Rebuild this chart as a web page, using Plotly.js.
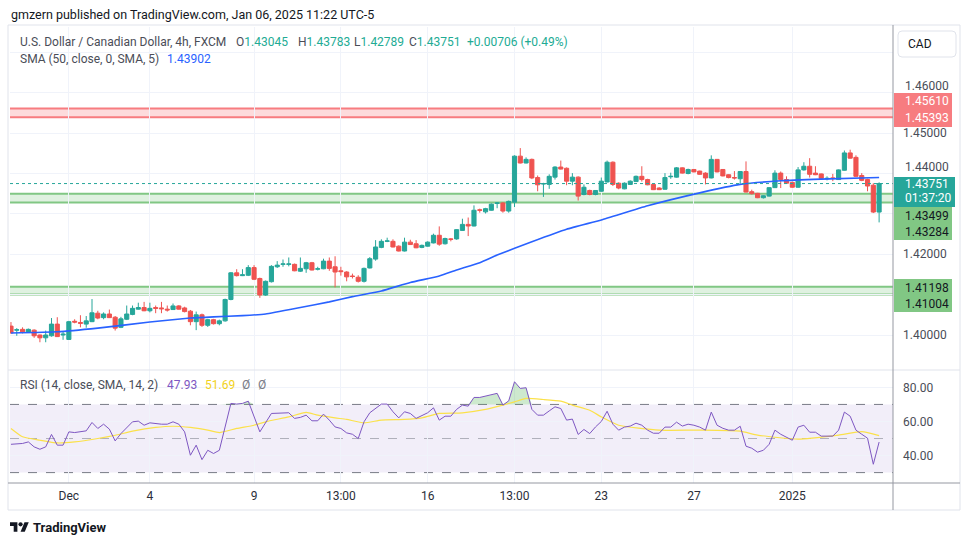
<!DOCTYPE html>
<html><head><meta charset="utf-8">
<script src="https://cdn.plot.ly/plotly-3.0.1.min.js"></script>
<style>html,body{margin:0;padding:0;background:#fff;}#chart{width:970px;height:545px;}</style>
</head><body><div id="chart"></div>
<script>
// ---------- DATA ----------
const opens = [1.4022,1.4012,1.4014,1.4007,1.4012,1.4000,1.3993,1.3998,1.4027,1.4000,
1.3989,1.4034,1.4031,1.4027,1.4033,1.4054,1.4043,1.4052,1.4044,1.4019,
1.4039,1.4051,1.4064,1.4068,1.4060,1.4068,1.4067,1.4064,1.4063,1.4072,
1.4067,1.4059,1.4033,1.4050,1.4024,1.4038,1.4028,1.4035,1.4088,1.4154,
1.4147,1.4148,1.4167,1.4140,1.4099,1.4132,1.4169,1.4175,1.4175,1.4175,
1.4158,1.4164,1.4179,1.4163,1.4164,1.4183,1.4169,1.4159,1.4156,1.4146,
1.4143,1.4133,1.4166,1.4188,1.4217,1.4232,1.4232,1.4220,1.4208,1.4230,
1.4226,1.4217,1.4220,1.4228,1.4247,1.4226,1.4238,1.4238,1.4259,1.4274,
1.4270,1.4310,1.4305,1.4309,1.4326,1.4327,1.4307,1.4329,1.4443,1.4426,
1.4435,1.4390,1.4374,1.4373,1.4391,1.4416,1.4413,1.4381,1.4391,1.4348,
1.4358,1.4348,1.4356,1.4379,1.4428,1.4376,1.4362,1.4373,1.4380,1.4393,
1.4385,1.4373,1.4364,1.4361,1.4392,1.4391,1.4414,1.4400,1.4410,1.4406,
1.4401,1.4389,1.4435,1.4410,1.4397,1.4390,1.4387,1.4405,1.4355,1.4351,
1.4340,1.4344,1.4365,1.4401,1.4385,1.4378,1.4366,1.4409,1.4418,1.4401,
1.4399,1.4387,1.4389,1.4385,1.4408,1.4451,1.4440,1.4395,1.4385,1.4371,
1.43045];
const highs = [1.4032,1.4017,1.4019,1.4016,1.4014,1.4001,1.4011,1.4042,1.4044,1.4009,
1.4035,1.4039,1.4049,1.4047,1.4089,1.4060,1.4056,1.4063,1.4047,1.4045,
1.4073,1.4073,1.4080,1.4082,1.4080,1.4073,1.4082,1.4073,1.4078,1.4074,
1.4070,1.4062,1.4058,1.4053,1.4040,1.4040,1.4038,1.4090,1.4156,1.4163,
1.4163,1.4173,1.4173,1.4142,1.4135,1.4173,1.4183,1.4187,1.4192,1.4177,
1.4192,1.4181,1.4181,1.4169,1.4189,1.4192,1.4195,1.4169,1.4158,1.4152,
1.4148,1.4167,1.4193,1.4235,1.4237,1.4241,1.4237,1.4222,1.4241,1.4236,
1.4235,1.4224,1.4232,1.4251,1.4269,1.4241,1.4240,1.4262,1.4288,1.4291,
1.4321,1.4313,1.4315,1.4326,1.4329,1.4329,1.4333,1.4445,1.4463,1.4440,
1.4437,1.4395,1.4377,1.4398,1.4418,1.4432,1.4415,1.4401,1.4393,1.4373,
1.4360,1.4359,1.4390,1.4432,1.4430,1.4378,1.4378,1.4383,1.4395,1.4418,
1.4387,1.4374,1.4366,1.4401,1.4402,1.4416,1.4415,1.4412,1.4411,1.4407,
1.4403,1.4445,1.4436,1.4411,1.4398,1.4406,1.4406,1.4430,1.4360,1.4352,
1.4346,1.4366,1.4408,1.4405,1.4393,1.4380,1.4416,1.4428,1.4438,1.4418,
1.4400,1.4393,1.4399,1.4410,1.4457,1.4459,1.4445,1.4401,1.4387,1.4376,
1.43783];
const lows = [1.4004,1.3998,1.4004,1.4006,1.3993,1.3982,1.3982,1.3996,1.3995,1.3988,
1.3988,1.4029,1.4019,1.4018,1.4032,1.4039,1.4039,1.4042,1.4011,1.4017,
1.4037,1.4049,1.4063,1.4059,1.4056,1.4054,1.4054,1.4058,1.4062,1.4063,
1.4056,1.4024,1.4012,1.4020,1.4020,1.4026,1.4024,1.4033,1.4086,1.4145,
1.4146,1.4146,1.4136,1.4092,1.4097,1.4130,1.4166,1.4169,1.4170,1.4158,
1.4156,1.4154,1.4160,1.4160,1.4163,1.4159,1.4118,1.4147,1.4133,1.4140,
1.4130,1.4130,1.4165,1.4184,1.4215,1.4230,1.4217,1.4207,1.4207,1.4223,
1.4215,1.4215,1.4219,1.4227,1.4221,1.4224,1.4232,1.4236,1.4258,1.4245,
1.4269,1.4303,1.4301,1.4308,1.4314,1.4303,1.4303,1.4317,1.4425,1.4425,
1.4386,1.4356,1.4342,1.4362,1.4385,1.4410,1.4371,1.4371,1.4333,1.4346,
1.4346,1.4346,1.4355,1.4378,1.4369,1.4361,1.4361,1.4372,1.4379,1.4380,
1.4371,1.4359,1.4359,1.4360,1.4387,1.4390,1.4400,1.4398,1.4403,1.4397,
1.4373,1.4388,1.4403,1.4393,1.4388,1.4385,1.4375,1.4353,1.4348,1.4339,
1.4338,1.4343,1.4364,1.4364,1.4375,1.4365,1.4365,1.4407,1.4390,1.4396,
1.4387,1.4383,1.4381,1.4384,1.4407,1.4437,1.4392,1.4381,1.4356,1.4302,
1.42789];
const closes = [1.4005,1.4013,1.4008,1.4014,1.3998,1.3993,1.4000,1.4027,1.3996,1.4002,
1.4033,1.4032,1.4029,1.4035,1.4055,1.4042,1.4052,1.4043,1.4017,1.4040,
1.4052,1.4066,1.4068,1.4060,1.4066,1.4066,1.4065,1.4062,1.4072,1.4064,
1.4058,1.4033,1.4050,1.4024,1.4038,1.4028,1.4035,1.4088,1.4154,1.4147,
1.4149,1.4167,1.4138,1.4099,1.4133,1.4170,1.4173,1.4176,1.4176,1.4159,
1.4165,1.4179,1.4161,1.4164,1.4183,1.4165,1.4156,1.4157,1.4144,1.4145,
1.4133,1.4165,1.4189,1.4218,1.4232,1.4233,1.4218,1.4208,1.4230,1.4224,
1.4216,1.4222,1.4230,1.4247,1.4225,1.4239,1.4237,1.4261,1.4274,1.4270,
1.4309,1.4309,1.4313,1.4324,1.4327,1.4307,1.4331,1.4443,1.4426,1.4435,
1.4389,1.4372,1.4375,1.4393,1.4416,1.4411,1.4381,1.4391,1.4344,1.4366,
1.4348,1.4358,1.4381,1.4428,1.4373,1.4364,1.4376,1.4381,1.4393,1.4385,
1.4372,1.4360,1.4360,1.4390,1.4393,1.4414,1.4401,1.4410,1.4404,1.4398,
1.4389,1.4435,1.4404,1.4394,1.4390,1.4389,1.4405,1.4354,1.4350,1.4340,
1.4345,1.4365,1.4401,1.4385,1.4376,1.4366,1.4409,1.4418,1.4398,1.4397,
1.4388,1.4388,1.4388,1.4409,1.4451,1.4438,1.4393,1.4383,1.4369,1.43045,
1.43751];

// SMA(50) at candle indices
const smaIdx = [0,8,15,24,31,35,40,44,50,55,59,64,69,74,77,81,84,90,96,102,110,119,126,133,140,150];
const smaVal = [1.4005,1.4008,1.4017,1.4032,1.4042,1.4045,1.4048,1.4052,1.4068,1.4082,1.4095,1.4109,1.4130,1.4146,1.4161,1.4179,1.4198,1.4231,1.4262,1.4285,1.4320,1.4352,1.4373,1.4382,1.4386,1.43902];

// RSI(14) and its SMA signal
const rsiIdx = [0,2,3,4,5,6,7,8,9,10,11,13,14,15,16,17,18,19,21,22,23,24,26,27,28,29,30,31,32,33,34,35,36,38,39,40,41,42,43,45,47,48,49,50,51,52,53,54,55,56,57,58,59,60,61,62,64,65,66,67,68,69,70,71,72,73,74,75,76,77,78,79,80,81,83,84,85,86,87,88,89,90,91,92,93,94,95,96,97,98,99,100,101,102,103,104,105,106,107,108,109,110,111,112,113,114,115,116,117,118,119,120,121,122,123,124,125,126,127,128,129,130,131,132,133,134,135,136,137,138,139,140,141,142,143,144,145,146,147,148,149,150];
const rsiVal = [46.6,47.1,48.0,45.1,43.7,45.1,52.4,46.1,46.1,53.9,53.5,54.5,59.4,55.9,58.4,55.5,48.6,52.9,59.8,60.2,57.8,59.2,58.4,58.4,59.8,58.4,53.9,40.2,46.1,37.6,43.1,41.2,43.1,70.6,70.2,70.6,71.9,62.7,53.9,64.7,65.1,65.1,61.8,62.4,63.7,60.4,60.4,64.3,60.8,56.8,55.9,53.3,52.5,50.0,59.8,65.1,70.2,70.2,65.7,62.1,65.7,64.7,61.8,63.7,65.1,68.0,60.8,63.1,63.1,67.1,69.6,69.0,74.1,74.1,75.5,76.5,69.6,72.1,83.3,79.4,79.8,67.1,63.7,63.7,66.2,68.6,67.6,60.8,61.4,52.4,55.3,52.9,56.8,60.0,66.0,58.4,54.9,56.7,57.3,59.0,57.8,54.9,53.1,53.1,56.7,56.7,59.6,57.3,58.4,57.8,56.7,54.9,65.5,57.8,56.0,54.9,54.9,57.2,45.5,44.3,42.0,43.1,46.6,54.9,52.5,50.8,49.0,56.7,57.8,53.7,53.7,51.4,51.4,51.4,54.9,65.5,63.1,54.9,52.5,50.2,34.9,47.93];
const sigIdx = [0,2,5,8,11,15,18,21,25,28,31,34,36,39,42,44,48,51,53,56,58,61,64,68,71,74,78,82,85,87,89,92,95,97,100,102,105,112,119,126,129,136,143,147,150];
const sigVal = [55.9,51.0,49.0,47.4,48.0,50.0,51.9,54.3,56.5,57.2,56.5,54.9,53.5,55.9,57.8,59.8,62.7,65.3,63.7,62.1,61.2,59.2,60.8,61.2,62.1,64.7,65.1,67.1,69.6,71.5,73.5,72.9,71.9,69.6,66.6,62.7,57.8,54.9,54.9,54.3,52.0,49.6,52.0,54.0,51.69];

const timeTickIdx = [10,24,42,57,72,87,102,118,135];
const timeTickText = ['Dec','4','9','13:00','16','13:00','23','27','2025'];
const priceTickVals = [1.40,1.41,1.42,1.43,1.44,1.45,1.46,1.47];
const priceTickText = ['1.40000','','1.42000','','','1.45000','',''];
const raisedPriceLabels = [1.46, 1.44];   // labels partly hidden by tags in the original
const rsiTickVals = [40,60,80];
const rsiTickText = ['40.00','60.00','80.00'];

const resistanceZone = [1.45393, 1.45610];
const supportZoneA = [1.43284, 1.43499];
const supportZoneB = [1.41004, 1.41198];
const lastPrice = 1.43751;
const countdown = '01:37:20';
const changeText = '+0.00706 (+0.49%)';

// ---------- LAYOUT HELPERS ----------
const FONT = 'Roboto, "DejaVu Sans", sans-serif';
const PL = 10, PR = 893, PT = 27, PB = 483;
const px = x => (x - PL) / (PR - PL);
const py = y => (PB - y) / (PB - PT);
const idx = opens.map((_, i) => i);
const UP = '#26a69a', DOWN = '#ef5350';
const fmt5 = v => v.toFixed(5);

function txt(x, y, text, color, size, extra) {
  return Object.assign({xref:'paper', yref:'paper', x:px(x), y:py(y), text:text, showarrow:false,
    xanchor:'left', yanchor:'middle', font:{family:FONT, size:size||12, color:color||'#131722'}}, extra||{});
}
function prect(x0, y0, x1, y1, fill, line, layer) {
  return {type:'rect', xref:'paper', yref:'paper', x0:px(x0), x1:px(x1), y0:py(y1), y1:py(y0),
    fillcolor:fill, line:line||{width:0}, layer:layer||'above'};
}
function pline(x0, y0, x1, y1, color, w, dash) {
  return {type:'line', xref:'paper', yref:'paper', x0:px(x0), x1:px(x1), y0:py(y0), y1:py(y1),
    line:{color:color, width:w||1, dash:dash||'solid'}, layer:'above'};
}
function zone(levels, lineColor, fill) {
  return [
    {type:'rect', xref:'paper', yref:'y', x0:0, x1:1, y0:levels[0], y1:levels[1], fillcolor:fill, line:{width:0}, layer:'below'},
    {type:'line', xref:'paper', yref:'y', x0:0, x1:1, y0:levels[0], y1:levels[0], line:{color:lineColor, width:2}, layer:'below'},
    {type:'line', xref:'paper', yref:'y', x0:0, x1:1, y0:levels[1], y1:levels[1], line:{color:lineColor, width:2}, layer:'below'}
  ];
}
function roundRectPath(x0, y0, x1, y1, r) {
  const X = px, Y = py;
  const rx = r/(PR-PL), ry = r/(PB-PT);
  return `M${X(x0)+rx},${Y(y0)} L${X(x1)-rx},${Y(y0)} Q${X(x1)},${Y(y0)} ${X(x1)},${Y(y0)-ry} ` +
         `L${X(x1)},${Y(y1)+ry} Q${X(x1)},${Y(y1)} ${X(x1)-rx},${Y(y1)} L${X(x0)+rx},${Y(y1)} ` +
         `Q${X(x0)},${Y(y1)} ${X(x0)},${Y(y1)+ry} L${X(x0)},${Y(y0)-ry} Q${X(x0)},${Y(y0)} ${X(x0)+rx},${Y(y0)} Z`;
}

// ---------- TRACES ----------
const candles = {
  type:'candlestick', x:idx, open:opens, high:highs, low:lows, close:closes,
  xaxis:'x', yaxis:'y', whiskerwidth:0,
  increasing:{line:{color:UP, width:1}, fillcolor:UP},
  decreasing:{line:{color:DOWN, width:1}, fillcolor:DOWN},
  hoverinfo:'skip', showlegend:false
};
const sma = {type:'scatter', mode:'lines', x:smaIdx, y:smaVal, xaxis:'x', yaxis:'y',
  line:{color:'#2962ff', width:1.6, shape:'spline', smoothing:0.4}, hoverinfo:'skip', showlegend:false};
const obBase = {type:'scatter', mode:'lines', x:rsiIdx, y:rsiIdx.map(() => 70), xaxis:'x', yaxis:'y2',
  line:{width:0, color:'rgba(0,0,0,0)'}, hoverinfo:'skip', showlegend:false};
const obFill = {type:'scatter', mode:'lines', x:rsiIdx, y:rsiVal.map(v => Math.max(v, 70)), xaxis:'x', yaxis:'y2',
  line:{width:0, color:'rgba(0,0,0,0)'}, fill:'tonexty', fillcolor:'rgba(76,175,80,0.28)', hoverinfo:'skip', showlegend:false};
const signal = {type:'scatter', mode:'lines', x:sigIdx, y:sigVal, xaxis:'x', yaxis:'y2',
  line:{color:'#fbe14a', width:1.2, shape:'spline', smoothing:0.5}, hoverinfo:'skip', showlegend:false};
const rsi = {type:'scatter', mode:'lines', x:rsiIdx, y:rsiVal, xaxis:'x', yaxis:'y2',
  line:{color:'#7e57c2', width:1}, hoverinfo:'skip', showlegend:false};

// ---------- SHAPES ----------
const shapes = [];
shapes.push(prect(8, 25, 960, 510, 'rgba(0,0,0,0)', {color:'#e0e3eb', width:1}, 'below'));
shapes.push(...zone(resistanceZone, '#f77c80', 'rgba(247,124,128,0.28)'));
shapes.push(...zone(supportZoneA, '#81c784', 'rgba(129,199,132,0.25)'));
shapes.push(...zone(supportZoneB, '#81c784', 'rgba(129,199,132,0.25)'));
shapes.push({type:'line', xref:'paper', yref:'y', x0:0, x1:1, y0:lastPrice, y1:lastPrice,
  line:{color:UP, width:1, dash:'dot'}, layer:'above'});
shapes.push({type:'rect', xref:'paper', yref:'y2', x0:0, x1:1, y0:30, y1:70, fillcolor:'rgba(126,87,194,0.10)', line:{width:0}, layer:'below'});
shapes.push({type:'line', xref:'paper', yref:'y2', x0:0, x1:1, y0:70, y1:70, line:{color:'#787b86', width:1, dash:'dash'}, layer:'below'});
shapes.push({type:'line', xref:'paper', yref:'y2', x0:0, x1:1, y0:50, y1:50, line:{color:'rgba(120,123,134,0.55)', width:1, dash:'dash'}, layer:'below'});
shapes.push({type:'line', xref:'paper', yref:'y2', x0:0, x1:1, y0:30, y1:30, line:{color:'#787b86', width:1, dash:'dash'}, layer:'below'});
shapes.push(pline(8, 370, 960, 370, '#e0e3eb', 1));
shapes.push(pline(8, 483, 960, 483, '#9598a1', 1));
shapes.push(pline(893, 25, 893, 510, '#9598a1', 1));
shapes.push({type:'path', xref:'paper', yref:'paper', path:roundRectPath(898, 31, 956, 57, 4),
  fillcolor:'#ffffff', line:{color:'#e0e3eb', width:1}, layer:'above'});
shapes.push(prect(894, 93, 952, 127, '#f77c80'));
shapes.push(prect(894, 177, 955, 207, UP));
shapes.push(prect(894, 207, 952, 240, '#81c784'));
shapes.push(prect(894, 279, 952, 312, '#81c784'));

// ---------- ANNOTATIONS ----------
const GRAY = '#4a4d57';
const TEAL = '#22ab94';
const annotations = [
  txt(9, 15, 'gmzern published on TradingView.com, Jan 06, 2025 11:22 UTC-5', '#131722', 12.5),
  txt(18, 42, 'U.S. Dollar / Canadian Dollar, 4h, FXCM', GRAY, 12),
  txt(234, 42, `O<span style="color:${TEAL}">${fmt5(opens[opens.length-1])}</span>`, GRAY, 12),
  txt(296, 42, `H<span style="color:${TEAL}">${fmt5(highs[highs.length-1])}</span>`, GRAY, 12),
  txt(352, 42, `L<span style="color:${TEAL}">${fmt5(lows[lows.length-1])}</span>`, GRAY, 12),
  txt(407, 42, `C<span style="color:${TEAL}">${fmt5(closes[closes.length-1])}</span>`, GRAY, 12),
  txt(465, 42, changeText, TEAL, 12),
  txt(18, 59, 'SMA (50, close, 0, SMA, 5)', GRAY, 12),
  txt(165, 59, fmt5(smaVal[smaVal.length-1]), '#2962ff', 12),
  txt(18, 385, 'RSI (14, close, SMA, 14, 2)', GRAY, 12),
  txt(165, 385, rsiVal[rsiVal.length-1].toFixed(2), '#7e57c2', 12),
  txt(203, 385, sigVal[sigVal.length-1].toFixed(2), '#f2d21b', 12),
  txt(240, 385, 'Ø', '#787b86', 12),
  txt(256, 385, 'Ø', '#787b86', 12),
  txt(906, 44, 'CAD', '#131722', 12),
  txt(903, 101, fmt5(resistanceZone[1]), '#ffffff', 12),
  txt(903, 118, fmt5(resistanceZone[0]), '#ffffff', 12),
  txt(903, 184, fmt5(lastPrice), '#ffffff', 12),
  txt(903, 198, countdown, '#ffffff', 12),
  txt(903, 216, fmt5(supportZoneA[1]), '#131722', 12),
  txt(903, 232, fmt5(supportZoneA[0]), '#131722', 12),
  txt(903, 288, fmt5(supportZoneB[1]), '#131722', 12),
  txt(903, 304, fmt5(supportZoneB[0]), '#131722', 12),
  txt(31, 527, '<b>TradingView</b>', '#131722', 13)
];
// price-scale labels that sit just above the tags (raised so they stay readable)
raisedPriceLabels.forEach(v => annotations.push({xref:'paper', yref:'y', x:px(903), y:v, yshift:7,
  text:fmt5(v), showarrow:false, xanchor:'left', yanchor:'middle',
  font:{family:FONT, size:12, color:'#4a4d57'}}));

const tvLogo = 'data:image/svg+xml;utf8,' + encodeURIComponent(
  "<svg xmlns='http://www.w3.org/2000/svg' viewBox='0 0 36 28'><path d='M14 22H7V11H0V4h14v18z' fill='#131722'/><path d='M28 22h-8l7.5-18h8L28 22z' fill='#131722'/><circle cx='20' cy='8' r='4' fill='#131722'/></svg>");

const layout = {
  width:970, height:545,
  margin:{l:PL, r:970-PR, t:PT, b:545-PB},
  paper_bgcolor:'#ffffff', plot_bgcolor:'#ffffff',
  showlegend:false, boxgap:0.25, boxgroupgap:0.05,
  font:{family:FONT, size:12, color:'#131722'},
  xaxis:{domain:[0,1], anchor:'y2', range:[-0.17, 152.4], tickvals:timeTickIdx, ticktext:timeTickText,
    showgrid:true, gridcolor:'#f0f3fa', gridwidth:1, zeroline:false, showline:false, ticks:'',
    tickfont:{family:FONT, size:12, color:'#2a2e39'}, ticklabelstandoff:4,
    rangeslider:{visible:false}, fixedrange:true},
  yaxis:{domain:[(PB-370)/(PB-PT), 1], anchor:'x', side:'right', range:[1.39133, 1.47629],
    tickvals:priceTickVals, ticktext:priceTickText, showgrid:true, gridcolor:'#f0f3fa', zeroline:false,
    showline:false, ticks:'', ticklabelstandoff:9, tickfont:{family:FONT, size:12, color:'#4a4d57'}},
  yaxis2:{domain:[0, (PB-370)/(PB-PT)], anchor:'x', side:'right', range:[23.9, 90.2],
    tickvals:rsiTickVals, ticktext:rsiTickText, showgrid:true, gridcolor:'#f0f3fa', zeroline:false,
    showline:false, ticks:'', ticklabelstandoff:9, tickfont:{family:FONT, size:12, color:'#4a4d57'}},
  shapes:shapes,
  annotations:annotations,
  images:[{source:tvLogo, xref:'paper', yref:'paper', x:px(10), y:py(520), sizex:19/(PR-PL), sizey:15/(PB-PT),
    xanchor:'left', yanchor:'top', sizing:'stretch', layer:'above'}]
};

Plotly.newPlot('chart', [obBase, obFill, signal, rsi, candles, sma], layout, {staticPlot:true, displayModeBar:false});
</script>
</body></html>
